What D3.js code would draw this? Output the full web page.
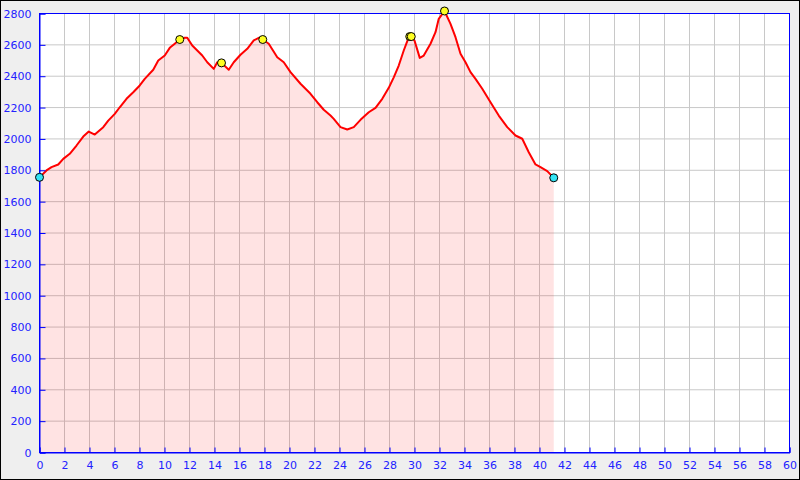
<!DOCTYPE html>
<html><head><meta charset="utf-8">
<script src="https://cdn.jsdelivr.net/npm/d3@7"></script>
<style>
html,body{margin:0;padding:0;background:#efefef;}
svg{display:block;}
text{font-family:"DejaVu Sans",sans-serif;font-size:11px;fill:#2222ff;}
</style></head>
<body>
<svg id="c" width="800" height="480"></svg>
<script>
// Distance (km) and elevation (m)
const distKm = [0,0.56,0.96,1.5,1.9,2.42,2.96,3.5,3.94,4.42,5.1,5.5,6.02,6.42,6.96,7.5,8.02,8.42,9.1,9.5,10.02,10.42,10.82,11.22,11.62,11.82,12.22,12.62,13.02,13.42,13.94,14.22,14.56,15.14,15.54,16.08,16.62,17.14,17.54,17.86,18.34,19.02,19.54,20.08,20.88,21.68,22.22,22.74,23.28,23.54,24.08,24.62,25.14,25.68,26.34,26.88,27.42,27.94,28.34,28.74,29.14,29.46,29.68,30.0,30.42,30.74,31.28,31.68,31.94,32.4,32.88,33.28,33.68,34.08,34.48,34.88,35.42,36.08,36.74,37.42,38.08,38.62,39.14,39.68,40.08,40.62,41.14];
const elevM = [1755,1799,1820,1837,1873,1905,1958,2015,2047,2028,2075,2117,2160,2202,2256,2298,2341,2383,2441,2500,2532,2581,2607,2634,2645,2645,2596,2564,2532,2489,2447,2489,2485,2441,2489,2537,2575,2628,2645,2634,2607,2521,2489,2426,2352,2288,2234,2186,2149,2128,2075,2060,2075,2122,2170,2198,2256,2326,2393,2468,2564,2632,2653,2628,2517,2532,2607,2681,2766,2816,2734,2649,2543,2489,2426,2383,2320,2234,2149,2075,2022,2001,1915,1837,1820,1795,1752];
const peakKm = [11.22,14.56,17.86,29.62,29.74,32.4];
const peakElev = [2634,2485,2634,2653,2653,2816];
const endKm = [0,41.14];
const endElev = [1755,1752];
const xTicks = d3.range(0,61,2);
const yTicks = d3.range(0,2801,200);

const svg = d3.select("#c");
svg.append("rect").attr("x",0.5).attr("y",0.5).attr("width",799).attr("height",479)
  .attr("fill","#efefef").attr("stroke","#000");

const x = d3.scaleLinear().domain([0,60]).range([39.5,789.5]);
const y = d3.scaleLinear().domain([0,2800]).range([452.5,13.5]);

svg.append("rect").attr("x",x(0)).attr("y",y(2800)).attr("width",x(60)-x(0)).attr("height",y(0)-y(2800)).attr("fill","#fff");

// grid
const g = svg.append("g");
g.selectAll("line.v").data(xTicks.slice(1,-1)).join("line")
  .attr("x1",d=>x(d)).attr("x2",d=>x(d)).attr("y1",y(0)).attr("y2",y(2800))
  .attr("stroke","#c8c8c8").attr("stroke-width",1);
g.selectAll("line.h").data(yTicks.slice(1,-1)).join("line")
  .attr("y1",d=>y(d)).attr("y2",d=>y(d)).attr("x1",x(0)).attr("x2",x(60))
  .attr("stroke","#c8c8c8").attr("stroke-width",1);

const pts = distKm.map((d,i)=>[d,elevM[i]]);
svg.append("path").datum(pts)
  .attr("d",d3.area().x(d=>x(d[0])).y0(y(0)).y1(d=>y(d[1])))
  .attr("fill","#ff0000").attr("fill-opacity",0.11);

// frame
svg.append("rect").attr("x",x(0)).attr("y",y(2800)).attr("width",x(60)-x(0)).attr("height",y(0)-y(2800))
  .attr("fill","none").attr("stroke","#0000ff").attr("stroke-width",1);

svg.append("path").datum(pts)
  .attr("d",d3.line().x(d=>x(d[0])).y(d=>y(d[1])))
  .attr("fill","none").attr("stroke","#ff0000").attr("stroke-width",2).attr("stroke-linejoin","round");

// axes
const xa = svg.append("g").attr("transform",`translate(0,${y(0)})`)
  .call(d3.axisBottom(x).tickValues(xTicks).tickSize(-5).tickPadding(9).tickFormat(d3.format("d")));
const ya = svg.append("g").attr("transform",`translate(${x(0)},0)`)
  .call(d3.axisLeft(y).tickValues(yTicks).tickSize(-6).tickPadding(8).tickFormat(d3.format("d")));
[xa,ya].forEach(a=>{
  a.select(".domain").attr("stroke","#0000ff");
  a.selectAll(".tick line").attr("stroke","#0000ff");
  a.selectAll("text").attr("fill","#2222ff").style("font-family","DejaVu Sans").style("font-size","11px");
});
ya.selectAll("text").attr("x",-8);

// markers
svg.selectAll("circle.p").data(peakKm).join("circle")
  .attr("cx",(d)=>x(d)).attr("cy",(d,i)=>y(peakElev[i])).attr("r",4)
  .attr("fill","#ffff22").attr("stroke","#000").attr("stroke-width",1);
svg.selectAll("circle.e").data(endKm).join("circle")
  .attr("cx",(d)=>x(d)).attr("cy",(d,i)=>y(endElev[i])).attr("r",4)
  .attr("fill","#33e4f4").attr("stroke","#000").attr("stroke-width",1);
</script>
</body></html>
